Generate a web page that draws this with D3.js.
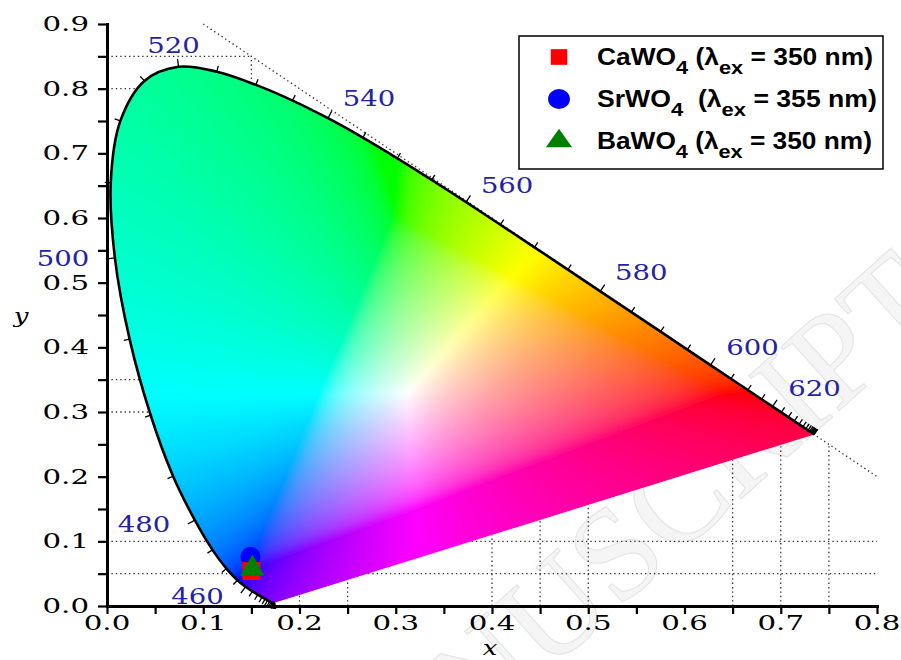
<!DOCTYPE html>
<html>
<head>
<meta charset="utf-8">
<script src="https://cdn.jsdelivr.net/npm/d3@7"></script>
<style>
  html, body { margin: 0; padding: 0; background: #fff; }
  svg { display: block; }
  text { white-space: pre; }
</style>
</head>
<body>
<svg id="chart" width="901" height="660"></svg>
<script>
// CIE 1931 2-degree spectral locus, 5 nm steps
const wavelengths = [380,385,390,395,400,405,410,415,420,425,430,435,440,445,450,455,460,465,470,475,
  480,485,490,495,500,505,510,515,520,525,530,535,540,545,550,555,560,565,570,575,580,585,590,595,
  600,605,610,615,620,625,630,635,640,645,650,655,660,665,670,675,680,685,690,695,700];
const locusX = [0.1741,0.1740,0.1738,0.1736,0.1733,0.1730,0.1726,0.1721,0.1714,0.1703,0.1689,0.1669,
  0.1644,0.1611,0.1566,0.1510,0.1440,0.1355,0.1241,0.1096,0.0913,0.0687,0.0454,0.0235,0.0082,0.0039,
  0.0139,0.0389,0.0743,0.1142,0.1547,0.1929,0.2296,0.2658,0.3016,0.3373,0.3731,0.4087,0.4441,0.4788,
  0.5125,0.5448,0.5752,0.6029,0.6270,0.6482,0.6658,0.6801,0.6915,0.7006,0.7079,0.7140,0.7190,0.7230,
  0.7260,0.7283,0.7300,0.7311,0.7320,0.7327,0.7334,0.7340,0.7344,0.7346,0.7347];
const locusY = [0.0050,0.0050,0.0049,0.0049,0.0048,0.0048,0.0048,0.0048,0.0051,0.0058,0.0069,0.0086,
  0.0109,0.0138,0.0177,0.0227,0.0297,0.0399,0.0578,0.0868,0.1327,0.2007,0.2950,0.4127,0.5384,0.6548,
  0.7502,0.8120,0.8338,0.8262,0.8059,0.7816,0.7543,0.7243,0.6923,0.6589,0.6245,0.5896,0.5547,0.5202,
  0.4866,0.4544,0.4242,0.3965,0.3725,0.3514,0.3340,0.3197,0.3083,0.2993,0.2920,0.2859,0.2809,0.2770,
  0.2740,0.2717,0.2700,0.2689,0.2680,0.2673,0.2666,0.2660,0.2656,0.2654,0.2653];
const labelledWavelengths = [460,480,500,520,540,560,580,600,620];

// Emission colour coordinates of the tungstates
const sampleBase = ["CaWO", "SrWO", "BaWO"];
const sampleSub = ["4", "4", "4"];
const sampleGap = [" (", "  (", " ("];
const excitationNm = [350, 355, 350];
const sampleX = [0.150, 0.149, 0.151];
const sampleY = [0.054, 0.076, 0.058];
const sampleSymbol = ["square", "circle", "triangle"];
const sampleColor = ["#ff0000", "#0000ff", "#008000"];

// Axis ticks
const xTicks = [0, 0.1, 0.2, 0.3, 0.4, 0.5, 0.6, 0.7, 0.8];
const yTicks = [0, 0.1, 0.2, 0.3, 0.4, 0.5, 0.6, 0.7, 0.8, 0.9];
const xTickLabels = ["0.0","0.1","0.2","0.3","0.4","0.5","0.6","0.7","0.8"];
const yTickLabels = ["0.0","0.1","0.2","0.3","0.4","0.5","0.6","0.7","0.8","0.9"];
const xMinor = [0.05, 0.15, 0.25, 0.35, 0.45, 0.55, 0.65, 0.75];
const yMinor = [0.05, 0.15, 0.25, 0.35, 0.45, 0.55, 0.65, 0.75, 0.85];

// Dotted guide lines outside the gamut
const guideLeftY = [0.05, 0.1, 0.3, 0.35, 0.8];
const guideRightY = [0.05, 0.1];
const guideBottomX = [0.2, 0.25, 0.4, 0.45, 0.5, 0.65, 0.7, 0.75];

const W = 901, H = 660;
const svg = d3.select("#chart");
const x = d3.scaleLinear().domain([0, 0.8]).range([107, 877]);
const y = d3.scaleLinear().domain([0, 0.9]).range([606, 24]);

const locus = wavelengths.map((w, i) => ({ w, x: locusX[i], y: locusY[i] }));
const line = d3.line().x(d => x(d.x)).y(d => y(d.y)).curve(d3.curveCatmullRom.alpha(0.5));

svg.append("rect").attr("width", W).attr("height", H).attr("fill", "#fff");

// faint diagonal watermark
svg.append("text")
  .attr("transform", "translate(318,880) rotate(-42)")
  .attr("font-family", "Liberation Serif, serif")
  .attr("font-size", 132)
  .attr("fill", "#f5f5f5")
  .attr("stroke", "#e3e3e3")
  .attr("stroke-width", 1)
  .text("MANUSCRIPT");

// --- dotted guides ---
const poly = locus.concat([locus[0]]);
function crossingsAtY(c) {
  const out = [];
  for (let i = 0; i < poly.length - 1; i++) {
    const a = poly[i], b = poly[i + 1];
    if ((a.y - c) * (b.y - c) < 0) out.push(a.x + (c - a.y) / (b.y - a.y) * (b.x - a.x));
  }
  return out.sort((p, q) => p - q);
}
function crossingsAtX(c) {
  const out = [];
  for (let i = 0; i < poly.length - 1; i++) {
    const a = poly[i], b = poly[i + 1];
    if ((a.x - c) * (b.x - c) < 0) out.push(a.y + (c - a.x) / (b.x - a.x) * (b.y - a.y));
  }
  return out.sort((p, q) => p - q);
}
const guides = [];
guideLeftY.forEach(c => { const k = crossingsAtY(c); guides.push([[0, c], [k[0], c]]); });
guideRightY.forEach(c => { const k = crossingsAtY(c); guides.push([[k[k.length - 1], c], [0.8, c]]); });
guideBottomX.forEach(c => {
  const k = crossingsAtX(c);
  guides.push([[c, 0], [c, k.length ? k[0] : 1 - c]]);
});
guides.push([[0, 0.85], [0.15, 0.85]]);
{ const k = crossingsAtX(0.15); guides.push([[0.15, k[k.length - 1]], [0.15, 0.85]]); }
guides.push([[0.1, 0.9], [0.8, 0.2]]); // x + y = 1

svg.append("g").selectAll("line").data(guides).join("line")
  .attr("x1", d => x(d[0][0])).attr("y1", d => y(d[0][1]))
  .attr("x2", d => x(d[1][0])).attr("y2", d => y(d[1][1]))
  .attr("stroke", "#333").attr("stroke-width", 1.3)
  .attr("stroke-dasharray", "1.4 3");

// --- gamut colours ---
function xyToRgb(cx, cy) {
  cy = Math.max(cy, 0.003);
  const X = cx / cy, Y = 1, Z = (1 - cx - cy) / cy;
  let r = 3.2406 * X - 1.5372 * Y - 0.4986 * Z;
  let g = -0.9689 * X + 1.8758 * Y + 0.0415 * Z;
  let b = 0.0557 * X - 0.2040 * Y + 1.0570 * Z;
  // lift out-of-gamut colours partly towards white, then clip
  const lift = 0.6 * Math.max(0, -Math.min(r, g, b));
  r = Math.max(r + lift, 0); g = Math.max(g + lift, 0); b = Math.max(b + lift, 0);
  const m = Math.max(r, g, b) || 1;
  const gam = c => (c <= 0.0031308 ? 12.92 * c : 1.055 * Math.pow(c, 1 / 2.4) - 0.055);
  return [gam(r / m) * 255, gam(g / m) * 255, gam(b / m) * 255];
}
const canvas = document.createElement("canvas");
canvas.width = W; canvas.height = H;
const ctx = canvas.getContext("2d");
const img = ctx.createImageData(W, H);
const px0 = Math.floor(x(0)) - 20, px1 = Math.ceil(x(0.75)) + 20;
const py0 = Math.floor(y(0.86)) - 20, py1 = Math.ceil(y(0)) + 20;
for (let py = py0; py <= py1; py++) {
  for (let px = px0; px <= px1; px++) {
    const c = xyToRgb(x.invert(px + 0.5), y.invert(py + 0.5));
    const k = (py * W + px) * 4;
    img.data[k] = c[0]; img.data[k + 1] = c[1]; img.data[k + 2] = c[2]; img.data[k + 3] = 255;
  }
}
ctx.putImageData(img, 0, 0);

const defs = svg.append("defs");
defs.append("clipPath").attr("id", "gamut")
  .append("path").attr("d", line(locus) + "Z");
// soften the creases of the colour field before clipping it to the locus
defs.append("filter").attr("id", "soft")
  .attr("filterUnits", "userSpaceOnUse")
  .attr("x", 0).attr("y", 0).attr("width", W).attr("height", H)
  .append("feGaussianBlur").attr("stdDeviation", 3);
svg.append("g").attr("clip-path", "url(#gamut)")
  .append("image")
  .attr("href", canvas.toDataURL())
  .attr("x", 0).attr("y", 0).attr("width", W).attr("height", H)
  .attr("filter", "url(#soft)");

// spectral locus outline
svg.append("path").attr("d", line(locus))
  .attr("fill", "none").attr("stroke", "#000").attr("stroke-width", 2.6)
  .attr("stroke-linejoin", "round");

// wavelength ticks, normal to the locus
const pts = locus.map(d => [x(d.x), y(d.y)]);
const tickData = [];
pts.forEach((p, i) => {
  const a = pts[Math.max(i - 1, 0)], b = pts[Math.min(i + 1, pts.length - 1)];
  let tx = b[0] - a[0], ty = b[1] - a[1];
  const len = Math.hypot(tx, ty);
  if (len < 1e-6) return;
  tx /= len; ty /= len;
  const nx = ty, ny = -tx;
  const L = labelledWavelengths.includes(locus[i].w) ? 8 : 6;
  tickData.push({ x1: p[0], y1: p[1], x2: p[0] + nx * L, y2: p[1] + ny * L });
});
svg.append("g").selectAll("line").data(tickData).join("line")
  .attr("x1", d => d.x1).attr("y1", d => d.y1).attr("x2", d => d.x2).attr("y2", d => d.y2)
  .attr("stroke", "#000").attr("stroke-width", 1.3);

// wavelength labels (offset from the locus point, in px)
const labelOffset = {
  460: [-48, 9], 480: [-51, 4], 500: [-52, 0], 520: [-5, -22], 540: [41, -20],
  560: [41, -17], 580: [41, -19], 600: [42, -18], 620: [42, -19]
};
function stretchedText(parent, tx, ty, sx, str, opts) {
  const g = parent.append("g").attr("transform", `translate(${tx},${ty}) scale(${sx},1)`);
  return g.append("text")
    .attr("font-family", opts.family).attr("font-size", opts.size)
    .attr("fill", opts.fill || "#000").attr("text-anchor", opts.anchor || "middle")
    .attr("font-style", opts.style || "normal")
    .text(str);
}
const wlG = svg.append("g");
labelledWavelengths.forEach(w => {
  const d = locus[wavelengths.indexOf(w)];
  const o = labelOffset[w];
  stretchedText(wlG, x(d.x) + o[0], y(d.y) + o[1] + 8, 1.25, String(w),
    { family: "DejaVu Serif, serif", size: 22, fill: "#2323a6" });
});

// --- axes ---
const xAxis = svg.append("g").attr("transform", `translate(0,${y(0)})`)
  .call(d3.axisBottom(x).tickValues(xTicks.concat(xMinor)).tickSize(8).tickSizeOuter(0).tickFormat(""));
const yAxis = svg.append("g").attr("transform", `translate(${x(0)},0)`)
  .call(d3.axisLeft(y).tickValues(yTicks.concat(yMinor)).tickSize(9).tickSizeOuter(0).tickFormat(""));
[xAxis, yAxis].forEach(a => {
  a.select(".domain").attr("stroke-width", 3).attr("stroke-linecap", "square");
  a.selectAll(".tick line").attr("stroke-width", 2.2);
  a.selectAll(".tick text").remove();
});

const tickG = svg.append("g");
xTicks.forEach((t, i) => stretchedText(tickG, x(t), 630, 1.5, xTickLabels[i],
  { family: "DejaVu Serif, serif", size: 19.5 }));
yTicks.forEach((t, i) => stretchedText(tickG, 89, y(t) + 7, 1.5, yTickLabels[i],
  { family: "DejaVu Serif, serif", size: 19.5, anchor: "end" }));

stretchedText(svg, 490, 655, 1.3, "x", { family: "DejaVu Serif, serif", size: 20, style: "italic" });
stretchedText(svg, 21, 323, 1.3, "y", { family: "DejaVu Serif, serif", size: 20, style: "italic" });

// --- sample markers ---
const symbolType = { square: d3.symbolSquare, circle: d3.symbolCircle, triangle: d3.symbolTriangle };
const plotSize = { square: 324, circle: 314, triangle: 250 };
const drawOrder = [1, 0, 2];
svg.append("g").selectAll("path").data(drawOrder).join("path")
  .attr("transform", i => `translate(${x(sampleX[i])},${y(sampleY[i])})`)
  .attr("d", i => d3.symbol(symbolType[sampleSymbol[i]], plotSize[sampleSymbol[i]])())
  .attr("fill", i => sampleColor[i]);

// --- legend ---
const legend = svg.append("g");
legend.append("rect").attr("x", 519).attr("y", 36).attr("width", 364).attr("height", 133)
  .attr("fill", "#fff").attr("stroke", "#000").attr("stroke-width", 1.5);
const legendSize = { square: 272, circle: 340, triangle: 270 };
const legendScale = { square: "scale(1,0.95)", circle: "scale(1.05,0.95)", triangle: "scale(1.05,0.85)" };
const legendTextWidth = [276, 280, 275];
sampleBase.forEach((base, i) => {
  const cy = 57 + i * 42;
  const sym = sampleSymbol[i];
  legend.append("path")
    .attr("transform", `translate(559,${cy}) ${legendScale[sym]}`)
    .attr("d", d3.symbol(symbolType[sym], legendSize[sym])())
    .attr("fill", sampleColor[i]);
  const g = legend.append("g");
  const t = g.append("text").attr("font-family", "Liberation Sans, Arial, sans-serif")
    .attr("font-weight", "bold").attr("font-size", 23).attr("fill", "#000");
  t.append("tspan").text(base);
  t.append("tspan").attr("dy", 9).attr("font-size", 19).text(sampleSub[i]);
  t.append("tspan").attr("dy", -9).text(sampleGap[i] + "\u03bb");
  t.append("tspan").attr("dy", 9).attr("font-size", 19).text("ex");
  t.append("tspan").attr("dy", -9).text(` = ${excitationNm[i]} nm)`);
  const w = t.node().getComputedTextLength();
  g.attr("transform", `translate(597,${cy + 8}) scale(${legendTextWidth[i] / w},1)`);
});
</script>
</body>
</html>
